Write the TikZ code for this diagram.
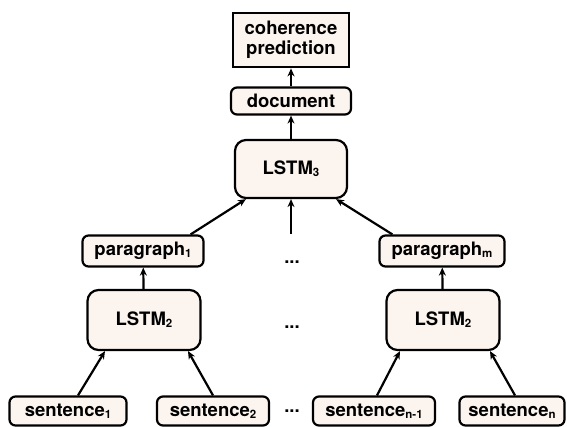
\documentclass[tikz,border=0pt]{standalone}
\usepackage{fontspec}
\setmainfont{TeX Gyre Heros}
\usetikzlibrary{arrows.meta}
\definecolor{boxfill}{RGB}{252,244,238}
\newcommand{\lowidx}[1]{\raisebox{-2pt}{\fontsize{11.5}{12}\selectfont #1}}

\begin{document}
\begin{tikzpicture}[x=1pt, y=-1pt]

\tikzstyle{every node} = [font=\fontsize{18.5}{21}\selectfont\bfseries]
\tikzstyle{unit} = [rectangle, rounded corners=6pt, draw, line width=2.2pt, fill=boxfill, minimum height=29pt, inner sep=0pt]
\tikzstyle{lstm} = [unit, rounded corners=11pt, minimum width=113pt, minimum height=60pt]
\tikzstyle{link} = [-{Stealth[length=8pt,width=7pt]}, line width=2.2pt]

\useasboundingbox (0,0) rectangle (567,426);

\node[unit, rounded corners=0pt, line width=2.8pt, minimum width=116pt, minimum height=54pt, align=center] (pred) at (291,40) {coherence\\[-1pt]prediction};
\node[unit, minimum width=120pt, minimum height=27pt] (doc) at (291,101) {document};
\node[lstm, minimum width=112pt, minimum height=58pt] (l3) at (291,169) {LSTM\lowidx{3}};

\node[unit, minimum width=121pt, minimum height=31pt] (p1) at (143,251) {paragraph\lowidx{1}};
\node[unit, minimum width=125pt, minimum height=31pt] (pm) at (442,251) {paragraph\lowidx{m}};
\node (dp) at (292,262) {...};

\node[lstm] (l2a) at (144,320) {LSTM\lowidx{2}};
\node[lstm] (l2b) at (443,320) {LSTM\lowidx{2}};
\node (dl) at (292,327) {...};

\node[unit, minimum width=117pt] (s1) at (68,411) {sentence\lowidx{1}};
\node[unit, minimum width=112pt] (s2) at (213,411) {sentence\lowidx{2}};
\node (ds) at (292,411) {...};
\node[unit, minimum width=122pt] (sn1) at (374,411) {sentence\lowidx{n-1}};
\node[unit, minimum width=105pt] (sn) at (512,411) {sentence\lowidx{n}};

\coordinate (mid) at (291,234);

\draw[link] (doc) -- (pred);
\draw[link] (l3) -- (doc);
\draw[link] ([xshift=-14pt]p1.north east) -- ([xshift=12pt]l3.south west);
\draw[link] ([xshift=14pt]pm.north west) -- ([xshift=-12pt]l3.south east);
\draw[link] (mid) -- (l3);
\draw[link] (l2a) -- (p1);
\draw[link] (l2b) -- (pm);
\draw[link] ([xshift=10pt]s1.north) -- ([xshift=-39pt]l2a.south);
\draw[link] (s2.north) -- ([xshift=44pt]l2a.south);
\draw[link] ([xshift=3pt]sn1.north) -- ([xshift=-43pt]l2b.south);
\draw[link] ([xshift=3pt]sn.north) -- ([xshift=47pt]l2b.south);
\end{tikzpicture}
\end{document}
